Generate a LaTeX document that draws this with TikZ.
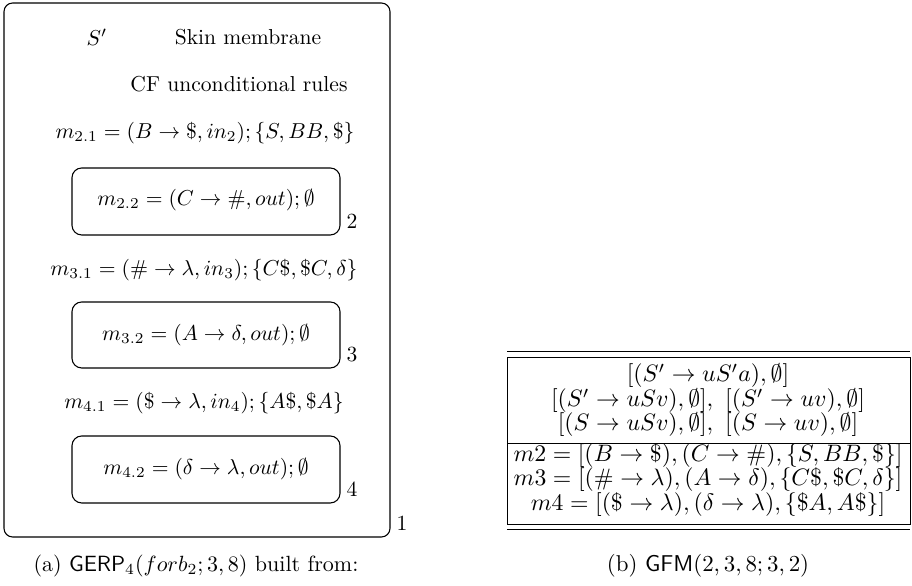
\documentclass[tikz,border=0pt]{standalone}
\usepackage{amsmath,amssymb}
\begin{document}
\begin{tikzpicture}[x=0.463pt,y=-0.463pt,
  membrane/.style={draw,line width=0.5pt,rounded corners=4.5pt},
  lbl/.style={inner sep=0pt,anchor=center},
  row/.style={inner sep=0pt,anchor=center,scale=1.1},
  rule/.style={line width=0.45pt}]
\useasboundingbox (0,0) rectangle (912,586);
% ---------- (a) ----------
\draw[membrane,rounded corners=4pt] (4,3) rectangle (390,537);
\node[lbl] (sp) at (97,37) {$S'$};
\node[lbl] (skin) at (248,37) {Skin membrane};
\node[lbl] (cf) at (239,84) {CF unconditional rules};
\node[lbl] (m21) at (205,133) {$m_{2.1}=(B\rightarrow\$,in_2);\{S,BB,\$\}$};
\draw[membrane] (72,168) rectangle (340,235);
\node[lbl] (m22) at (206,200) {$m_{2.2}=(C\rightarrow\#,out);\emptyset$};
\node[lbl] (l2) at (352,221) {2};
\node[lbl] (m31) at (204,270) {$m_{3.1}=(\#\rightarrow\lambda,in_3);\{C\$,\$C,\delta\}$};
\draw[membrane] (72,302) rectangle (340,368);
\node[lbl] (m32) at (206,335) {$m_{3.2}=(A\rightarrow\delta,out);\emptyset$};
\node[lbl] (l3) at (352,355) {3};
\node[lbl] (m41) at (204,403) {$m_{4.1}=(\$\rightarrow\lambda,in_4);\{A\$,\$A\}$};
\draw[membrane] (72,436) rectangle (340,503);
\node[lbl] (m42) at (206,469) {$m_{4.2}=(\delta\rightarrow\lambda,out);\emptyset$};
\node[lbl] (l4) at (352,489) {4};
\node[lbl] (l1) at (402,523) {1};
\node[lbl,scale=1.02] (capa) at (196,566) {(a) $\mathsf{GERP}_4(forb_2;3,8)$ built from:};
% ---------- (b) ----------
\draw[rule] (507,351) -- (910,351);
\draw[rule] (507,357) -- (910,357) -- (910,524) -- (507,524) -- cycle;
\draw[rule] (507,443) -- (910,443);
\draw[rule] (507,529) -- (910,529);
\node[row] (r1) at (708,376) {$[(S'\rightarrow uS'a),\emptyset]$};
\node[row] (r2) at (708,401) {$[(S'\rightarrow uSv),\emptyset],~[(S'\rightarrow uv),\emptyset]$};
\node[row] (r3) at (708,425) {$[(S\rightarrow uSv),\emptyset],~[(S\rightarrow uv),\emptyset]$};
\node[row] (r4) at (708,456) {$m2=[(B\rightarrow\$),(C\rightarrow\#),\{S,BB,\$\}]$};
\node[row] (r5) at (708,480) {$m3=[(\#\rightarrow\lambda),(A\rightarrow\delta),\{C\$,\$C,\delta\}]$};
\node[row] (r6) at (708,505) {$m4=[(\$\rightarrow\lambda),(\delta\rightarrow\lambda),\{\$A,A\$\}]$};
\node[lbl,scale=1.06] (capb) at (708,566) {(b) $\mathsf{GFM}(2,3,8;3,2)$};
\end{tikzpicture}
\end{document}
